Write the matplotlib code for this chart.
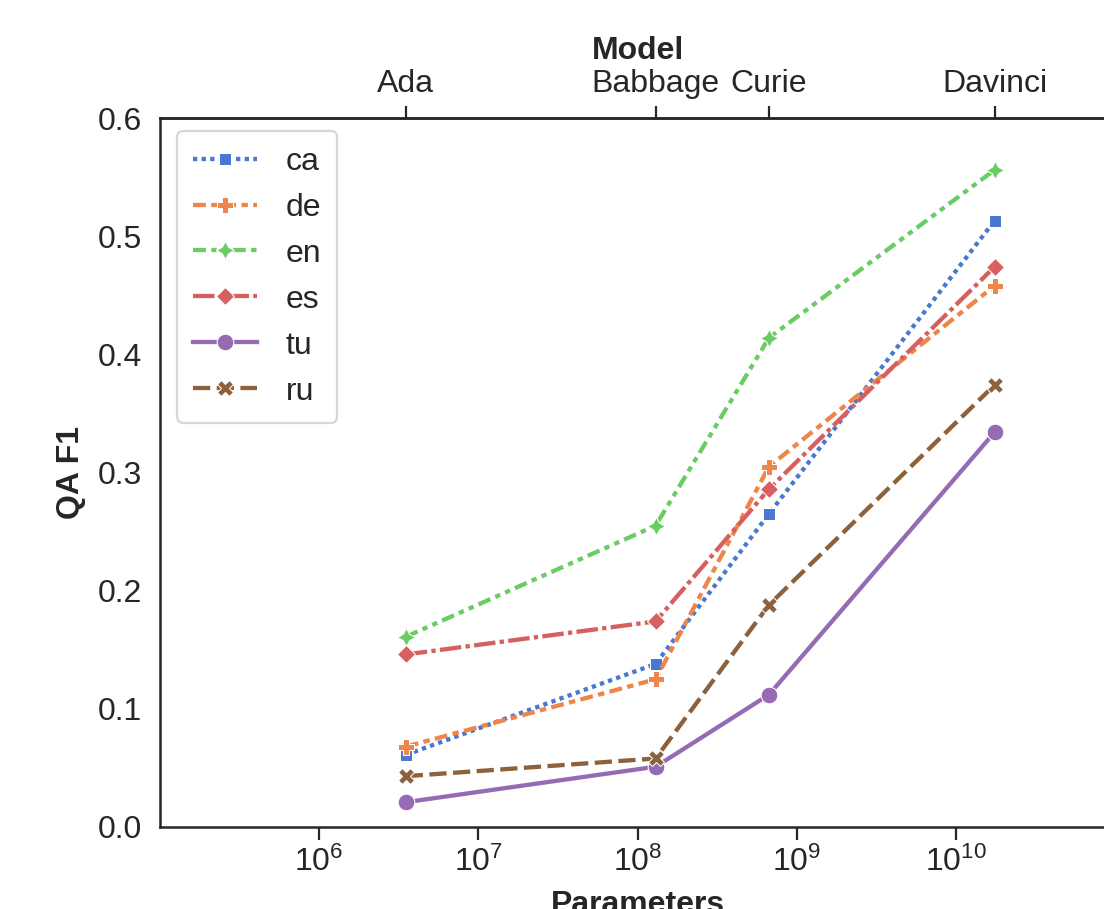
import matplotlib
matplotlib.use("Agg")
import matplotlib.pyplot as plt
from matplotlib.ticker import NullLocator

plt.rcParams['font.family'] = ['Liberation Sans', 'DejaVu Sans']
plt.rcParams['mathtext.fontset'] = 'custom'
plt.rcParams['mathtext.rm'] = 'Liberation Sans'
plt.rcParams['mathtext.it'] = 'Liberation Sans:italic'
plt.rcParams['mathtext.bf'] = 'Liberation Sans:bold'

# ---- data ----
models = ["Ada", "Babbage", "Curie", "Davinci"]
params = [3.5e6, 1.3e8, 6.7e8, 1.75e10]
languages = ["ca", "de", "en", "es", "tu", "ru"]
ca = [0.061, 0.138, 0.265, 0.513]
de = [0.068, 0.125, 0.305, 0.458]
en = [0.161, 0.255, 0.414, 0.556]
es = [0.146, 0.174, 0.286, 0.474]
tu = [0.021, 0.051, 0.112, 0.334]
ru = [0.043, 0.058, 0.188, 0.374]
series = [ca, de, en, es, tu, ru]

colors = ["#4878d0", "#ee854a", "#6acc64", "#d65f5f", "#956cb4", "#8c613c"]
dashes = [(1, 1), (3, 1.25, 1.5, 1.25), (3, 1.25, 1.25, 1.25, 1.25, 1.25),
          (5, 1, 1, 1), None, (4, 1.5)]
markers = [(4, 0, 45), "P", (4, 1, 0), (4, 0, 0), "o", "X"]
msizes = [12, 12, 13, 13, 12, 12]

FS = 23
fig = plt.figure(figsize=(11.04, 9.09), dpi=100)
ax = fig.add_axes([160 / 1104, 1 - 827 / 909, (1115 - 160) / 1104, (827 - 118) / 909])

text_col = "#262626"
for name, vals, c, d, m, ms in zip(languages, series, colors, dashes, markers, msizes):
    kw = dict(color=c, lw=3.1, marker=m, markersize=ms, markeredgecolor="white",
              markeredgewidth=0.75, label=name)
    if d is None:
        ax.plot(params, vals, ls="-", **kw)
    else:
        ax.plot(params, vals, ls=(0, d), **kw)

ax.set_xscale("log")
ax.set_xlim(1e5, 1e11)
ax.set_ylim(0, 0.6)
ax.set_xticks([1e6, 1e7, 1e8, 1e9, 1e10])
ax.xaxis.set_minor_locator(NullLocator())
yt = [0.0, 0.1, 0.2, 0.3, 0.4, 0.5, 0.6]
ax.set_yticks(yt)
ax.set_yticklabels([f"{v:.1f}" for v in yt])
ax.tick_params(axis="x", which="major", direction="out", length=9, width=1.6,
               colors=text_col, labelsize=FS, pad=5)
ax.tick_params(axis="y", which="major", length=0, labelsize=FS, colors=text_col, pad=13)
for s in ax.spines.values():
    s.set_linewidth(1.8)
    s.set_color(text_col)

ax.set_xlabel("Parameters", fontsize=FS, fontweight="bold", color=text_col, labelpad=9)
ax.set_ylabel("QA F1", fontsize=FS, fontweight="bold", color=text_col, labelpad=8)

top = ax.secondary_xaxis("top")
top.set_xticks(params)
top.set_xticklabels(models)
top.xaxis.set_minor_locator(NullLocator())
top.tick_params(axis="x", direction="out", length=9, width=1.6, colors=text_col,
                labelsize=FS, pad=5)
top.set_xlabel("Model", fontsize=FS, fontweight="bold", color=text_col, labelpad=7)
top.spines["top"].set_linewidth(1.8)
top.spines["top"].set_color(text_col)

leg = ax.legend(loc="upper left", fontsize=FS, frameon=True, fancybox=True,
                handlelength=2.0, borderpad=0.5, labelspacing=0.5,
                handletextpad=0.9, borderaxespad=0, bbox_to_anchor=(0.018, 0.982))
leg.get_frame().set_edgecolor("#cccccc")
leg.get_frame().set_linewidth(1.6)
for t in leg.get_texts():
    t.set_color(text_col)

fig.savefig("out.png", dpi=100)
